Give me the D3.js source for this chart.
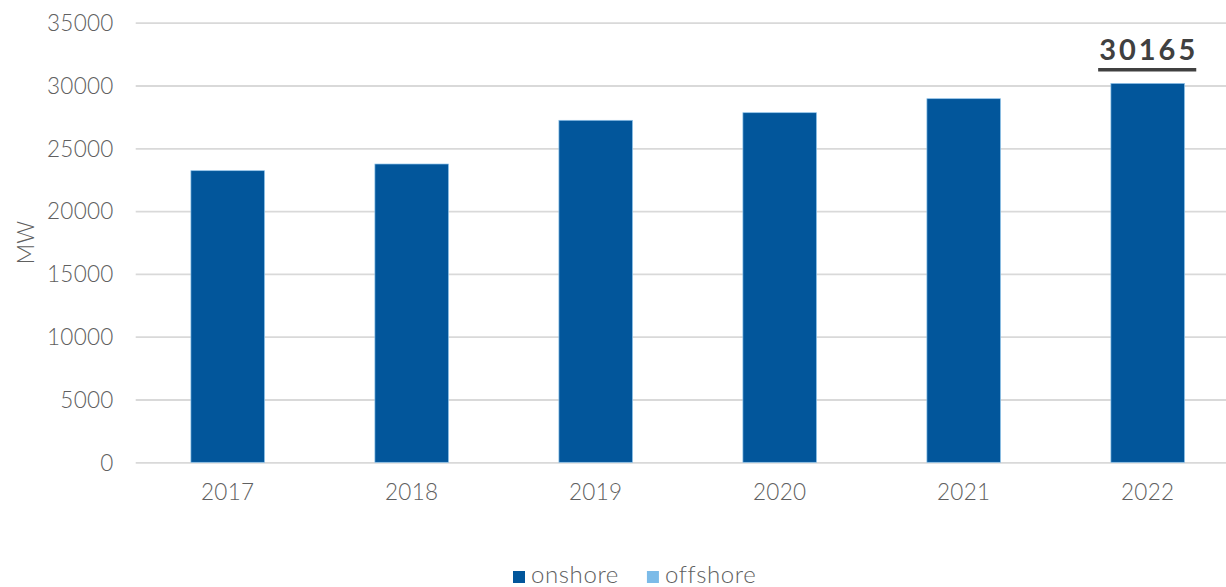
<!DOCTYPE html>
<html>
<head>
<meta charset="utf-8">
<script src="https://cdn.jsdelivr.net/npm/d3@7/dist/d3.min.js"></script>
<style>
  html, body { margin: 0; padding: 0; background: #ffffff; }
  svg { display: block; }
  text { font-family: Lato, "Open Sans", sans-serif; }
</style>
</head>
<body>
<svg id="chart" width="1226" height="587"></svg>
<script>
// Installed wind capacity by year (MW)
const years = ["2017", "2018", "2019", "2020", "2021", "2022"];
const onshore = [23217, 23750, 27229, 27834, 28949, 30165];
const offshore = [0, 0, 0, 0, 0, 0];
const yTicks = [0, 5000, 10000, 15000, 20000, 25000, 30000, 35000];
const seriesNames = ["onshore", "offshore"];
const seriesColors = ["#02569b", "#7cbbe8"];
const highlightYear = "2022";

const svg = d3.select("#chart");
const plot = { left: 135.7, right: 1239.7, top: 22.7, bottom: 462.3 };
const textColor = "#606060";

const x = d3.scaleBand().domain(years)
  .range([plot.left, plot.right])
  .paddingInner(0.6).paddingOuter(0.3);
const y = d3.scaleLinear().domain([0, 35000]).range([plot.bottom, plot.top]);

const rows = years.map((yr, i) => ({ year: yr, onshore: onshore[i], offshore: offshore[i] }));
const stacked = d3.stack().keys(seriesNames)(rows);
const color = d3.scaleOrdinal().domain(seriesNames).range(seriesColors);

// gridlines + y tick labels
const yAxis = d3.axisLeft(y).tickValues(yTicks)
  .tickSize(-(plot.right - plot.left)).tickPadding(22).tickFormat(d3.format("d"));
const ga = svg.append("g").attr("transform", `translate(${plot.left},0)`).call(yAxis);
ga.select(".domain").remove();
ga.selectAll(".tick line").attr("stroke", "#d9d9d9").attr("stroke-width", 1.8);
ga.selectAll(".tick text").attr("fill", textColor).attr("font-size", 22.5)
  .attr("font-weight", 300).attr("letter-spacing", 0.3).attr("dy", "0.35em");

// bars
svg.append("g").selectAll("g").data(stacked).join("g")
  .attr("fill", d => color(d.key))
  .selectAll("rect").data(d => d.filter(s => s[1] - s[0] > 0)).join("rect")
  .attr("x", d => x(d.data.year))
  .attr("width", x.bandwidth())
  .attr("y", d => y(d[1]))
  .attr("height", d => y(d[0]) - y(d[1]))
  .attr("stroke", "#8fc3ea").attr("stroke-width", 0.7);

// x axis labels
const xAxis = d3.axisBottom(x).tickSize(0).tickPadding(22);
const gx = svg.append("g").attr("transform", `translate(0,${plot.bottom})`).call(xAxis);
gx.select(".domain").remove();
gx.selectAll(".tick text").attr("fill", textColor).attr("font-size", 22.5)
  .attr("font-weight", 300).attr("letter-spacing", 0.3);

// y axis title
svg.append("text")
  .attr("transform", `translate(34,${(plot.top + plot.bottom) / 2}) rotate(-90)`)
  .attr("text-anchor", "middle")
  .attr("fill", textColor).attr("font-size", 22.5).attr("font-weight", 300)
  .text("MW");

// total label above the latest bar
const hi = years.indexOf(highlightYear);
const total = onshore[hi] + offshore[hi];
const lbl = svg.append("text")
  .attr("x", x(highlightYear) + x.bandwidth() / 2 + 1)
  .attr("y", 60)
  .attr("text-anchor", "middle")
  .attr("fill", "#404040").attr("font-size", 29).attr("font-weight", "bold")
  .attr("letter-spacing", 3)
  .text(d3.format("d")(total));
const bb = lbl.node().getBBox();
svg.append("rect")
  .attr("x", bb.x - 1).attr("y", 68).attr("width", bb.width - 1).attr("height", 3.5)
  .attr("fill", "#404040");

// legend
const legend = svg.append("g").attr("transform", "translate(513,571)");
let lx = 0;
seriesNames.forEach((name, i) => {
  const g = legend.append("g").attr("transform", `translate(${lx},0)`);
  g.append("rect").attr("width", 12).attr("height", 12).attr("fill", seriesColors[i]);
  const t = g.append("text").attr("x", 18).attr("y", 12)
    .attr("fill", textColor).attr("font-size", 24).attr("font-weight", 300)
    .attr("letter-spacing", 0.6).text(name);
  lx += 18 + t.node().getComputedTextLength() + 28;
});
</script>
</body>
</html>
